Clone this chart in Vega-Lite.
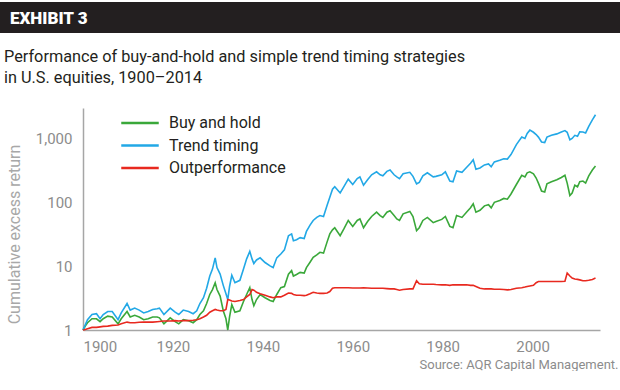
{
  "$schema": "https://vega.github.io/schema/vega-lite/v6.json",
  "padding": {"left": 0, "top": 2, "right": 0, "bottom": 0},
  "background": "white",
  "spacing": 15,
  "resolve": {"legend": {"color": "independent"}},
  "config": {"font": "Roboto", "view": {"stroke": null}},
  "vconcat": [
    {
      "width": 620,
      "height": 31,
      "view": {"fill": "#231f20", "stroke": null},
      "data": {"values": [{"label": "EXHIBIT 3"}]},
      "mark": {"type": "text", "align": "left", "baseline": "middle", "x": 10, "y": 17, "font": "Roboto", "fontWeight": 900, "fontSize": 17, "color": "white"},
      "encoding": {"text": {"field": "label"}}
    },
    {
      "width": 600,
      "height": 222,
      "title": {
        "text": ["Performance of buy-and-hold and simple trend timing strategies", "in U.S. equities, 1900–2014"],
        "anchor": "start",
        "frame": "group",
        "dx": 4,
        "offset": 22,
        "fontSize": 16.3,
        "fontWeight": 400,
        "lineHeight": 21,
        "color": "#231f20",
        "font": "Roboto"
      },
      "data": {"values": [
        {"year": 1900, "Buy and hold": 1.0, "Trend timing": 1.0, "Outperformance": 1.0},
        {"year": 1900.5, "Buy and hold": 1.15, "Trend timing": 1.2, "Outperformance": 1.02},
        {"year": 1901, "Buy and hold": 1.3, "Trend timing": 1.45, "Outperformance": 1.05},
        {"year": 1902, "Buy and hold": 1.5, "Trend timing": 1.75, "Outperformance": 1.1},
        {"year": 1903, "Buy and hold": 1.5, "Trend timing": 1.8, "Outperformance": 1.1},
        {"year": 1903.8, "Buy and hold": 1.35, "Trend timing": 1.5, "Outperformance": 1.12},
        {"year": 1904.5, "Buy and hold": 1.5, "Trend timing": 1.75, "Outperformance": 1.14},
        {"year": 1905.5, "Buy and hold": 1.65, "Trend timing": 1.95, "Outperformance": 1.15},
        {"year": 1906.5, "Buy and hold": 1.6, "Trend timing": 1.95, "Outperformance": 1.18},
        {"year": 1907.8, "Buy and hold": 1.25, "Trend timing": 1.45, "Outperformance": 1.2},
        {"year": 1908.5, "Buy and hold": 1.5, "Trend timing": 1.85, "Outperformance": 1.25},
        {"year": 1909.8, "Buy and hold": 1.95, "Trend timing": 2.6, "Outperformance": 1.33},
        {"year": 1910.5, "Buy and hold": 1.6, "Trend timing": 2.05, "Outperformance": 1.3},
        {"year": 1911.5, "Buy and hold": 1.7, "Trend timing": 2.2, "Outperformance": 1.3},
        {"year": 1912.5, "Buy and hold": 1.6, "Trend timing": 2.05, "Outperformance": 1.32},
        {"year": 1913.5, "Buy and hold": 1.45, "Trend timing": 1.85, "Outperformance": 1.33},
        {"year": 1914.5, "Buy and hold": 1.5, "Trend timing": 1.95, "Outperformance": 1.33},
        {"year": 1915.5, "Buy and hold": 1.6, "Trend timing": 2.1, "Outperformance": 1.33},
        {"year": 1916.5, "Buy and hold": 1.6, "Trend timing": 2.15, "Outperformance": 1.35},
        {"year": 1917, "Buy and hold": 1.55, "Trend timing": 2.2, "Outperformance": 1.36},
        {"year": 1918, "Buy and hold": 1.25, "Trend timing": 1.75, "Outperformance": 1.38},
        {"year": 1919.4, "Buy and hold": 1.55, "Trend timing": 2.2, "Outperformance": 1.38},
        {"year": 1920.5, "Buy and hold": 1.35, "Trend timing": 1.9, "Outperformance": 1.4},
        {"year": 1921.3, "Buy and hold": 1.25, "Trend timing": 1.75, "Outperformance": 1.38},
        {"year": 1922.3, "Buy and hold": 1.45, "Trend timing": 2.05, "Outperformance": 1.4},
        {"year": 1923.5, "Buy and hold": 1.4, "Trend timing": 1.95, "Outperformance": 1.4},
        {"year": 1924.5, "Buy and hold": 1.3, "Trend timing": 1.8, "Outperformance": 1.42},
        {"year": 1925.3, "Buy and hold": 1.45, "Trend timing": 2.0, "Outperformance": 1.45},
        {"year": 1926, "Buy and hold": 1.75, "Trend timing": 2.6, "Outperformance": 1.5},
        {"year": 1926.8, "Buy and hold": 2.0, "Trend timing": 3.2, "Outperformance": 1.6},
        {"year": 1927.5, "Buy and hold": 2.6, "Trend timing": 4.5, "Outperformance": 1.7},
        {"year": 1928.2, "Buy and hold": 3.6, "Trend timing": 7.0, "Outperformance": 1.9},
        {"year": 1928.8, "Buy and hold": 4.3, "Trend timing": 9.0, "Outperformance": 2.0},
        {"year": 1929.4, "Buy and hold": 5.5, "Trend timing": 13.5, "Outperformance": 2.1},
        {"year": 1929.8, "Buy and hold": 4.3, "Trend timing": 9.5, "Outperformance": 2.05},
        {"year": 1930.5, "Buy and hold": 3.4, "Trend timing": 7.5, "Outperformance": 2.0},
        {"year": 1931.2, "Buy and hold": 2.0, "Trend timing": 5.0, "Outperformance": 2.0},
        {"year": 1931.8, "Buy and hold": 1.5, "Trend timing": 3.7, "Outperformance": 2.1},
        {"year": 1932.2, "Buy and hold": 1.0, "Trend timing": 3.0, "Outperformance": 3.0},
        {"year": 1932.6, "Buy and hold": 1.6, "Trend timing": 4.8, "Outperformance": 2.95},
        {"year": 1933.1, "Buy and hold": 2.5, "Trend timing": 7.2, "Outperformance": 2.85},
        {"year": 1933.8, "Buy and hold": 1.9, "Trend timing": 5.5, "Outperformance": 2.8},
        {"year": 1934.9, "Buy and hold": 2.0, "Trend timing": 6.0, "Outperformance": 2.9},
        {"year": 1935.7, "Buy and hold": 2.8, "Trend timing": 9.0, "Outperformance": 3.0},
        {"year": 1936.4, "Buy and hold": 3.6, "Trend timing": 13.0, "Outperformance": 3.3},
        {"year": 1937.1, "Buy and hold": 4.6, "Trend timing": 17.0, "Outperformance": 3.6},
        {"year": 1937.6, "Buy and hold": 3.0, "Trend timing": 13.0, "Outperformance": 4.3},
        {"year": 1938.0, "Buy and hold": 2.4, "Trend timing": 11.0, "Outperformance": 4.2},
        {"year": 1938.6, "Buy and hold": 3.0, "Trend timing": 12.5, "Outperformance": 3.9},
        {"year": 1939.4, "Buy and hold": 3.6, "Trend timing": 13.5, "Outperformance": 3.7},
        {"year": 1940.5, "Buy and hold": 3.2, "Trend timing": 11.4, "Outperformance": 3.5},
        {"year": 1941.6, "Buy and hold": 2.9, "Trend timing": 10.1, "Outperformance": 3.3},
        {"year": 1942.3, "Buy and hold": 2.8, "Trend timing": 9.5, "Outperformance": 3.2},
        {"year": 1943.1, "Buy and hold": 3.6, "Trend timing": 13.5, "Outperformance": 3.3},
        {"year": 1944, "Buy and hold": 4.6, "Trend timing": 15.5, "Outperformance": 3.3},
        {"year": 1944.8, "Buy and hold": 4.8, "Trend timing": 18.0, "Outperformance": 3.5},
        {"year": 1945.7, "Buy and hold": 7.5, "Trend timing": 30.0, "Outperformance": 3.8},
        {"year": 1946.4, "Buy and hold": 8.5, "Trend timing": 32.0, "Outperformance": 3.75},
        {"year": 1946.8, "Buy and hold": 7.0, "Trend timing": 25.0, "Outperformance": 3.6},
        {"year": 1947.5, "Buy and hold": 7.4, "Trend timing": 26.0, "Outperformance": 3.5},
        {"year": 1948.3, "Buy and hold": 8.0, "Trend timing": 28.0, "Outperformance": 3.5},
        {"year": 1949.2, "Buy and hold": 7.8, "Trend timing": 27.0, "Outperformance": 3.45},
        {"year": 1949.7, "Buy and hold": 9.5, "Trend timing": 35.0, "Outperformance": 3.5},
        {"year": 1950.5, "Buy and hold": 11.5, "Trend timing": 44.0, "Outperformance": 3.7},
        {"year": 1951.2, "Buy and hold": 13.7, "Trend timing": 52.0, "Outperformance": 3.9},
        {"year": 1952, "Buy and hold": 15.0, "Trend timing": 58.0, "Outperformance": 3.8},
        {"year": 1952.7, "Buy and hold": 16.5, "Trend timing": 62.0, "Outperformance": 3.75},
        {"year": 1953.5, "Buy and hold": 16.0, "Trend timing": 60.0, "Outperformance": 3.75},
        {"year": 1954.3, "Buy and hold": 24.0, "Trend timing": 90.0, "Outperformance": 3.8},
        {"year": 1954.9, "Buy and hold": 32.0, "Trend timing": 120.0, "Outperformance": 4.0},
        {"year": 1955.5, "Buy and hold": 37.0, "Trend timing": 160.0, "Outperformance": 4.5},
        {"year": 1956, "Buy and hold": 40.0, "Trend timing": 175.0, "Outperformance": 4.6},
        {"year": 1957.2, "Buy and hold": 30.0, "Trend timing": 140.0, "Outperformance": 4.6},
        {"year": 1958, "Buy and hold": 38.0, "Trend timing": 175.0, "Outperformance": 4.6},
        {"year": 1959, "Buy and hold": 52.0, "Trend timing": 230.0, "Outperformance": 4.6},
        {"year": 1960, "Buy and hold": 42.0, "Trend timing": 190.0, "Outperformance": 4.55},
        {"year": 1961, "Buy and hold": 52.0, "Trend timing": 235.0, "Outperformance": 4.55},
        {"year": 1961.6, "Buy and hold": 55.0, "Trend timing": 250.0, "Outperformance": 4.55},
        {"year": 1962.4, "Buy and hold": 40.0, "Trend timing": 185.0, "Outperformance": 4.6},
        {"year": 1963.3, "Buy and hold": 50.0, "Trend timing": 225.0, "Outperformance": 4.55},
        {"year": 1964.2, "Buy and hold": 60.0, "Trend timing": 270.0, "Outperformance": 4.5},
        {"year": 1965.3, "Buy and hold": 70.0, "Trend timing": 300.0, "Outperformance": 4.5},
        {"year": 1966.1, "Buy and hold": 62.0, "Trend timing": 270.0, "Outperformance": 4.5},
        {"year": 1966.7, "Buy and hold": 58.0, "Trend timing": 260.0, "Outperformance": 4.5},
        {"year": 1967.6, "Buy and hold": 70.0, "Trend timing": 305.0, "Outperformance": 4.45},
        {"year": 1968.3, "Buy and hold": 74.0, "Trend timing": 320.0, "Outperformance": 4.4},
        {"year": 1969.2, "Buy and hold": 62.0, "Trend timing": 270.0, "Outperformance": 4.4},
        {"year": 1969.8, "Buy and hold": 55.0, "Trend timing": 250.0, "Outperformance": 4.3},
        {"year": 1970.4, "Buy and hold": 52.0, "Trend timing": 235.0, "Outperformance": 4.2},
        {"year": 1971.2, "Buy and hold": 66.0, "Trend timing": 280.0, "Outperformance": 4.3},
        {"year": 1972.7, "Buy and hold": 72.0, "Trend timing": 295.0, "Outperformance": 4.4},
        {"year": 1973.4, "Buy and hold": 60.0, "Trend timing": 255.0, "Outperformance": 4.4},
        {"year": 1974.2, "Buy and hold": 36.0, "Trend timing": 195.0, "Outperformance": 5.9},
        {"year": 1974.8, "Buy and hold": 40.0, "Trend timing": 205.0, "Outperformance": 5.3},
        {"year": 1975.6, "Buy and hold": 52.0, "Trend timing": 260.0, "Outperformance": 5.2},
        {"year": 1976.6, "Buy and hold": 58.0, "Trend timing": 290.0, "Outperformance": 5.2},
        {"year": 1977.9, "Buy and hold": 48.0, "Trend timing": 250.0, "Outperformance": 5.2},
        {"year": 1978.5, "Buy and hold": 50.0, "Trend timing": 255.0, "Outperformance": 5.15},
        {"year": 1979.8, "Buy and hold": 54.0, "Trend timing": 270.0, "Outperformance": 5.1},
        {"year": 1980.6, "Buy and hold": 60.0, "Trend timing": 300.0, "Outperformance": 5.1},
        {"year": 1981.6, "Buy and hold": 42.0, "Trend timing": 215.0, "Outperformance": 5.0},
        {"year": 1982.3, "Buy and hold": 40.0, "Trend timing": 210.0, "Outperformance": 5.1},
        {"year": 1983.1, "Buy and hold": 62.0, "Trend timing": 310.0, "Outperformance": 5.1},
        {"year": 1984.3, "Buy and hold": 58.0, "Trend timing": 295.0, "Outperformance": 5.1},
        {"year": 1985.3, "Buy and hold": 70.0, "Trend timing": 350.0, "Outperformance": 5.1},
        {"year": 1986.2, "Buy and hold": 82.0, "Trend timing": 410.0, "Outperformance": 5.0},
        {"year": 1986.8, "Buy and hold": 95.0, "Trend timing": 465.0, "Outperformance": 5.0},
        {"year": 1987.4, "Buy and hold": 70.0, "Trend timing": 330.0, "Outperformance": 4.8},
        {"year": 1988.3, "Buy and hold": 75.0, "Trend timing": 345.0, "Outperformance": 4.5},
        {"year": 1989.3, "Buy and hold": 88.0, "Trend timing": 385.0, "Outperformance": 4.4},
        {"year": 1990.2, "Buy and hold": 92.0, "Trend timing": 400.0, "Outperformance": 4.4},
        {"year": 1990.8, "Buy and hold": 82.0, "Trend timing": 360.0, "Outperformance": 4.4},
        {"year": 1991.5, "Buy and hold": 100.0, "Trend timing": 430.0, "Outperformance": 4.35},
        {"year": 1992.7, "Buy and hold": 107.0, "Trend timing": 455.0, "Outperformance": 4.35},
        {"year": 1993.6, "Buy and hold": 115.0, "Trend timing": 480.0, "Outperformance": 4.3},
        {"year": 1994.4, "Buy and hold": 112.0, "Trend timing": 475.0, "Outperformance": 4.25},
        {"year": 1995.2, "Buy and hold": 135.0, "Trend timing": 560.0, "Outperformance": 4.3},
        {"year": 1996.4, "Buy and hold": 190.0, "Trend timing": 800.0, "Outperformance": 4.5},
        {"year": 1997.6, "Buy and hold": 265.0, "Trend timing": 1050.0, "Outperformance": 4.6},
        {"year": 1998.3, "Buy and hold": 250.0, "Trend timing": 1000.0, "Outperformance": 4.7},
        {"year": 1998.8, "Buy and hold": 290.0, "Trend timing": 1200.0, "Outperformance": 4.8},
        {"year": 1999.4, "Buy and hold": 300.0, "Trend timing": 1350.0, "Outperformance": 4.9},
        {"year": 2000.2, "Buy and hold": 280.0, "Trend timing": 1250.0, "Outperformance": 5.0},
        {"year": 2000.8, "Buy and hold": 240.0, "Trend timing": 1150.0, "Outperformance": 5.5},
        {"year": 2001.3, "Buy and hold": 200.0, "Trend timing": 1050.0, "Outperformance": 5.75},
        {"year": 2002.0, "Buy and hold": 150.0, "Trend timing": 880.0, "Outperformance": 5.75},
        {"year": 2002.7, "Buy and hold": 145.0, "Trend timing": 860.0, "Outperformance": 5.75},
        {"year": 2003.2, "Buy and hold": 195.0, "Trend timing": 1050.0, "Outperformance": 5.75},
        {"year": 2004.2, "Buy and hold": 210.0, "Trend timing": 1120.0, "Outperformance": 5.75},
        {"year": 2005.4, "Buy and hold": 225.0, "Trend timing": 1180.0, "Outperformance": 5.75},
        {"year": 2006.4, "Buy and hold": 245.0, "Trend timing": 1260.0, "Outperformance": 5.75},
        {"year": 2007.2, "Buy and hold": 265.0, "Trend timing": 1330.0, "Outperformance": 5.8},
        {"year": 2007.7, "Buy and hold": 200.0, "Trend timing": 1250.0, "Outperformance": 7.8},
        {"year": 2008.3, "Buy and hold": 128.0, "Trend timing": 950.0, "Outperformance": 7.0},
        {"year": 2008.8, "Buy and hold": 140.0, "Trend timing": 1000.0, "Outperformance": 6.5},
        {"year": 2009.4, "Buy and hold": 185.0, "Trend timing": 1120.0, "Outperformance": 6.3},
        {"year": 2010.0, "Buy and hold": 175.0, "Trend timing": 1080.0, "Outperformance": 6.2},
        {"year": 2010.5, "Buy and hold": 210.0, "Trend timing": 1270.0, "Outperformance": 6.1},
        {"year": 2011.2, "Buy and hold": 215.0, "Trend timing": 1260.0, "Outperformance": 5.9},
        {"year": 2011.8, "Buy and hold": 200.0, "Trend timing": 1220.0, "Outperformance": 5.9},
        {"year": 2012.5, "Buy and hold": 260.0, "Trend timing": 1550.0, "Outperformance": 6.0},
        {"year": 2013.3, "Buy and hold": 320.0, "Trend timing": 1950.0, "Outperformance": 6.2},
        {"year": 2014, "Buy and hold": 370.0, "Trend timing": 2350.0, "Outperformance": 6.5}
      ]},
      "transform": [{"fold": ["Buy and hold", "Trend timing", "Outperformance"], "as": ["series", "value"]}],
      "mark": {"type": "line", "strokeWidth": 1.6, "interpolate": "linear"},
      "encoding": {
        "x": {
          "field": "year", "type": "quantitative",
          "scale": {"domain": [1900, 2015], "range": [83, 600], "nice": false, "zero": false},
          "axis": {
            "values": [1900, 1920, 1940, 1960, 1980, 2000],
            "format": "d",
            "grid": false, "ticks": false, "tickSize": 0,
            "labelPadding": 9, "labelFontSize": 15, "labelColor": "#8c8c8c", "labelFont": "Roboto",
            "domainColor": "#a6a6a6", "domainWidth": 1.5,
            "title": "Source: AQR Capital Management.",
            "titleFont": "Roboto", "titleFontSize": 13, "titleFontWeight": 400, "titleColor": "#8c8c8c",
            "titleAnchor": "end", "titleAlign": "right", "titleBaseline": "alphabetic",
            "titleX": 618, "titleY": 38
          }
        },
        "y": {
          "field": "value", "type": "quantitative",
          "scale": {"type": "log", "domain": [1, 3000], "nice": false},
          "axis": {
            "offset": -83,
            "values": [1, 10, 100, 1000],
            "format": ",",
            "grid": false, "ticks": false, "tickSize": 0,
            "labelPadding": 11, "labelFontSize": 15, "labelColor": "#8c8c8c", "labelFont": "Roboto",
            "domainColor": "#a6a6a6", "domainWidth": 1.5,
            "title": "Cumulative excess return",
            "titleFont": "Roboto", "titleFontSize": 16, "titleFontWeight": 400, "titleColor": "#a8a8a8",
            "titleAnchor": "middle", "titleBaseline": "bottom",
            "titleX": -61, "titleY": 126
          }
        },
        "color": {
          "field": "series", "type": "nominal",
          "scale": {"domain": ["Buy and hold", "Trend timing", "Outperformance"], "range": ["#3aa83a", "#22a8e6", "#e8291f"]},
          "legend": {
            "orient": "none", "legendX": 131, "legendY": 6, "title": null,
            "symbolType": "M -2.5 0 L 2.5 0", "symbolSize": 225, "symbolStrokeWidth": 2.5,
            "labelFontSize": 16, "labelColor": "#231f20", "labelFont": "Roboto",
            "rowPadding": 5.5, "labelOffset": 20, "padding": 0
          }
        }
      }
    }
  ]
}
